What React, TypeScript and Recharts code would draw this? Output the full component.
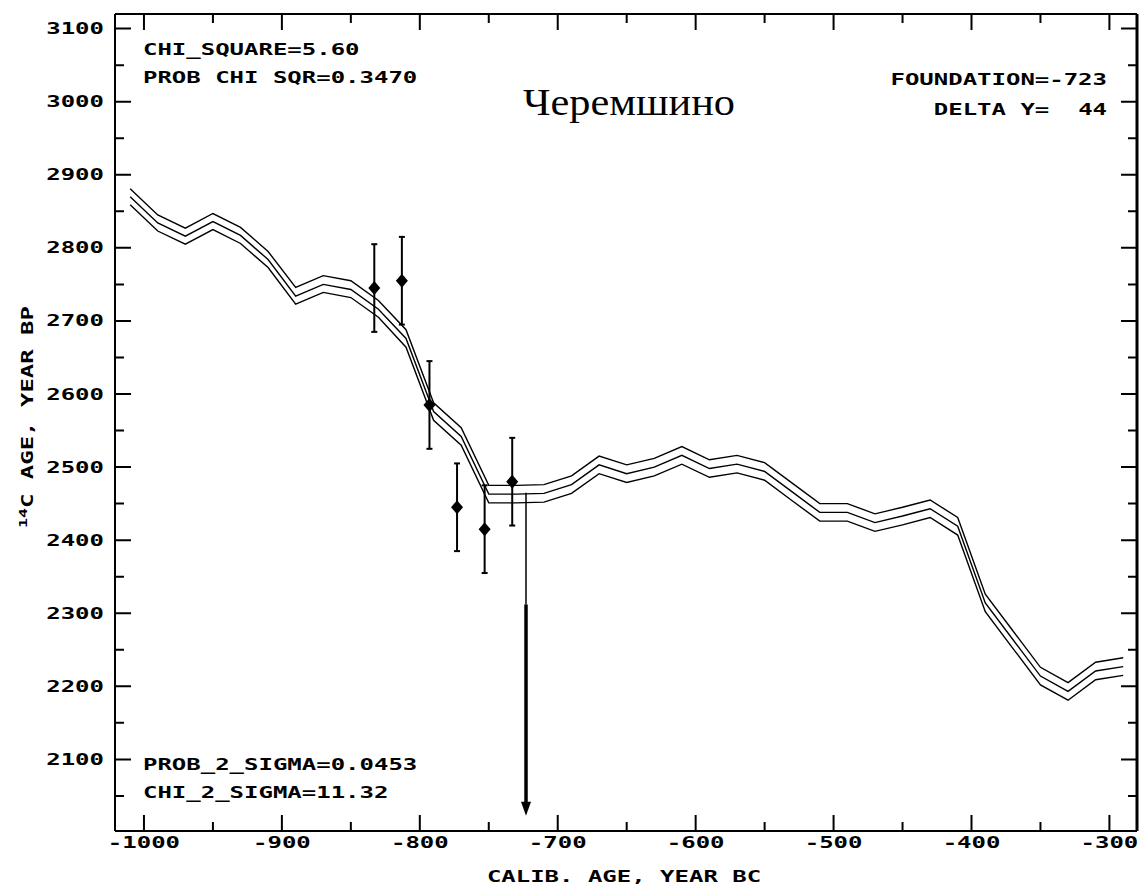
import React from 'react';
import { ComposedChart, Line, Scatter, XAxis, YAxis, ErrorBar, ReferenceLine } from 'recharts';

// calibration curve, 20-year steps (calendar years, negative = BC)
const curveYears = [
  -1010, -990, -970, -950, -930, -910, -890, -870, -850, -830, -810, -790, -770,
  -750, -730, -710, -690, -670, -650, -630, -610, -590, -570, -550, -530, -510,
  -490, -470, -450, -430, -410, -390, -370, -350, -330, -310, -290,
];
const curveUpper = [
  2881, 2845, 2827, 2847, 2828, 2795, 2746, 2762, 2755, 2728, 2688, 2588, 2554,
  2475, 2475, 2476, 2488, 2515, 2503, 2512, 2528, 2510, 2516, 2506, 2478, 2450,
  2450, 2436, 2445, 2455, 2431, 2326, 2276, 2226, 2205, 2233, 2239,
];
const curveMid = [
  2870, 2834, 2816, 2836, 2817, 2784, 2734, 2750, 2743, 2716, 2676, 2576, 2542,
  2463, 2463, 2464, 2476, 2503, 2491, 2500, 2516, 2498, 2504, 2494, 2466, 2438,
  2438, 2424, 2433, 2443, 2419, 2314, 2264, 2214, 2193, 2221, 2227,
];
const curveLower = [
  2859, 2823, 2805, 2825, 2806, 2773, 2723, 2739, 2732, 2705, 2664, 2564, 2530,
  2451, 2451, 2452, 2464, 2491, 2479, 2488, 2504, 2486, 2492, 2482, 2454, 2426,
  2426, 2412, 2421, 2431, 2407, 2302, 2252, 2202, 2181, 2209, 2215,
];

// wiggle-matched samples
const sampleYears = [-833, -813, -793, -773, -753, -733];
const sampleAges = [2745, 2755, 2585, 2445, 2415, 2480];
const sampleErrors = [60, 60, 60, 60, 60, 60];

// foundation arrow
const foundationYear = -723;
const foundationTop = 2465;
const foundationThickFrom = 2312;
const foundationShaftEnd = 2035;
const foundationTip = 2023;

const xTicks = [-1000, -950, -900, -850, -800, -750, -700, -650, -600, -550, -500, -450, -400, -350, -300];
const yTicks = [2050, 2100, 2150, 2200, 2250, 2300, 2350, 2400, 2450, 2500, 2550, 2600, 2650, 2700, 2750, 2800, 2850, 2900, 2950, 3000, 3050, 3100];
const xDomain = [-1021, -280];
const yDomain = [2002, 3120];

const stats = {
  chiSquare: '5.60',
  probChiSqr: '0.3470',
  foundation: '-723',
  deltaY: '44',
  prob2Sigma: '0.0453',
  chi2Sigma: '11.32',
};

const curve = curveYears.map((x, i) => ({ x, upper: curveUpper[i], mid: curveMid[i], lower: curveLower[i] }));
const samples = sampleYears.map((x, i) => ({ x, y: sampleAges[i], err: sampleErrors[i] }));
const arrowTip = [{ x: foundationYear, y: foundationTip }];

const W = 1139;
const H = 888;

const MONO = '"DejaVu Sans Mono", monospace';

const Mono = ({ x, y, anchor = 'start', rotate = 0, children }: any) => (
  <text
    transform={`translate(${x},${y}) rotate(${rotate}) scale(1.5,1)`}
    textAnchor={anchor}
    fontFamily={MONO}
    fontWeight="bold"
    fontSize={16}
    fill="#000"
    style={{ whiteSpace: 'pre' }}
  >
    {children}
  </text>
);

const isMajor = (v: number) => Math.abs(v % 100) === 0;
const tickLen = (v: number) => (isMajor(v) ? 16 : 9);

const BottomLabel = ({ x, y, payload }: any) =>
  isMajor(payload.value) ? <Mono x={x} y={y + 17} anchor="middle">{String(payload.value)}</Mono> : <g />;

const LeftLabel = ({ x, y, payload }: any) =>
  isMajor(payload.value) ? <Mono x={x - 11} y={y + 5.5} anchor="end">{String(payload.value)}</Mono> : <g />;

// inward ticks on both opposite frame edges, drawn as one path from the full-span reference line
const tickShape = (len: number, vertical: boolean) => (p: any) => {
  const x1 = Number(p.x1);
  const y1 = Number(p.y1);
  const x2 = Number(p.x2);
  const y2 = Number(p.y2);
  if (vertical) {
    const top = Math.min(y1, y2);
    const bottom = Math.max(y1, y2);
    const d = `M${x1},${bottom}V${bottom - len}M${x1},${top}V${top + len}`;
    return <path d={d} stroke="#000" strokeWidth={2} fill="none" />;
  }
  const left = Math.min(x1, x2);
  const right = Math.max(x1, x2);
  const d = `M${left},${y1}H${left + len}M${right},${y1}H${right - len}`;
  return <path d={d} stroke="#000" strokeWidth={2} fill="none" />;
};

const Diamond = ({ cx, cy }: any) => (
  <polygon points={`${cx},${cy - 7} ${cx + 6},${cy} ${cx},${cy + 7} ${cx - 6},${cy}`} fill="#000" />
);

const ArrowHead = ({ cx, cy }: any) => (
  <polygon points={`${cx - 5},${cy - 14} ${cx + 5},${cy - 14} ${cx},${cy}`} fill="#000" />
);

export default function App() {
  const frame = { stroke: '#000', strokeWidth: 2 };
  return (
    <div style={{ position: 'absolute', left: 0, top: 0, width: W, height: H, background: '#fff' }}>
      <ComposedChart width={W} height={H} data={curve} margin={{ top: 14, right: 2, bottom: 0, left: 0 }}>
        <XAxis
          dataKey="x"
          type="number"
          domain={xDomain}
          allowDataOverflow
          ticks={xTicks}
          interval={0}
          height={57}
          tickSize={0}
          tickMargin={0}
          tickLine={false}
          axisLine={frame}
          tick={<BottomLabel />}
        />
        <YAxis
          type="number"
          domain={yDomain}
          allowDataOverflow
          ticks={yTicks}
          interval={0}
          width={115}
          tickSize={0}
          tickMargin={0}
          tickLine={false}
          axisLine={frame}
          tick={<LeftLabel />}
        />

        {/* top and right edges of the frame */}
        <ReferenceLine y={yDomain[1]} stroke="#000" strokeWidth={2} ifOverflow="visible" />
        <ReferenceLine x={xDomain[1]} stroke="#000" strokeWidth={3} ifOverflow="visible" />

        {xTicks.map((t) => (
          <ReferenceLine key={`xt${t}`} x={t} ifOverflow="visible" shape={tickShape(tickLen(t), true)} />
        ))}
        {yTicks.map((t) => (
          <ReferenceLine key={`yt${t}`} y={t} ifOverflow="visible" shape={tickShape(tickLen(t), false)} />
        ))}

        <Line dataKey="upper" type="linear" stroke="#000" strokeWidth={1.4} dot={false} activeDot={false} isAnimationActive={false} />
        <Line dataKey="mid" type="linear" stroke="#000" strokeWidth={1.4} dot={false} activeDot={false} isAnimationActive={false} />
        <Line dataKey="lower" type="linear" stroke="#000" strokeWidth={1.4} dot={false} activeDot={false} isAnimationActive={false} />

        <ReferenceLine
          segment={[{ x: foundationYear, y: foundationTop }, { x: foundationYear, y: foundationThickFrom }]}
          stroke="#000"
          strokeWidth={1.5}
        />
        <ReferenceLine
          segment={[{ x: foundationYear, y: foundationThickFrom }, { x: foundationYear, y: foundationShaftEnd }]}
          stroke="#000"
          strokeWidth={3.5}
        />

        <Scatter data={samples} dataKey="y" shape={<Diamond />} isAnimationActive={false}>
          <ErrorBar dataKey="err" direction="y" width={3} stroke="#000" strokeWidth={2} isAnimationActive={false} />
        </Scatter>
        <Scatter data={arrowTip} dataKey="y" shape={<ArrowHead />} isAnimationActive={false} />
      </ComposedChart>

      <svg width={W} height={H} style={{ position: 'absolute', left: 0, top: 0, pointerEvents: 'none' }}>
        <Mono x={143} y={55}>{`CHI_SQUARE=${stats.chiSquare}`}</Mono>
        <Mono x={143} y={83}>{`PROB CHI SQR=${stats.probChiSqr}`}</Mono>
        <Mono x={1107} y={85} anchor="end">{`FOUNDATION=${stats.foundation}`}</Mono>
        <Mono x={1107} y={115} anchor="end">{`DELTA Y=  ${stats.deltaY}`}</Mono>
        <Mono x={143} y={770}>{`PROB_2_SIGMA=${stats.prob2Sigma}`}</Mono>
        <Mono x={143} y={798}>{`CHI_2_SIGMA=${stats.chi2Sigma}`}</Mono>
        <Mono x={624} y={882} anchor="middle">CALIB. AGE, YEAR BC</Mono>
        <text
          transform="translate(33,306) rotate(-90) scale(1.5,1)"
          textAnchor="end"
          fontFamily={MONO}
          fontWeight="bold"
          fontSize={16}
          fill="#000"
        >
          <tspan fontSize={11} dy={-6}>14</tspan>
          <tspan dy={6}>C AGE, YEAR BP</tspan>
        </text>
        <text
          x={629}
          y={115}
          textAnchor="middle"
          fontFamily='"Liberation Serif", "Times New Roman", serif'
          fontSize={37}
          textLength={212}
          lengthAdjust="spacingAndGlyphs"
          fill="#000"
        >
          Черемшино
        </text>
      </svg>
    </div>
  );
}
